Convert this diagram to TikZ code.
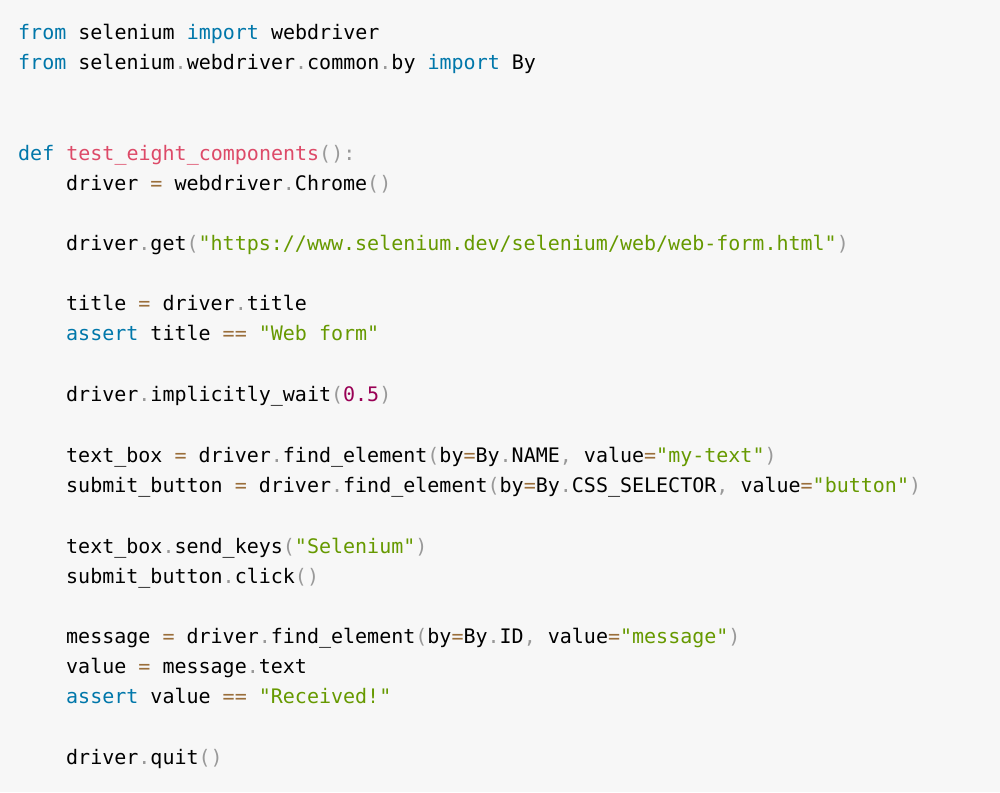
\documentclass[tikz,border=0pt]{standalone}
\usepackage{fontspec}
\setmonofont{DejaVu Sans Mono}
\definecolor{bg}{HTML}{F7F7F7}
\definecolor{kwc}{HTML}{0077AA}
\definecolor{fnc}{HTML}{DD4A68}
\definecolor{stc}{HTML}{669900}
\definecolor{nmc}{HTML}{990055}
\definecolor{opc}{HTML}{9A6E3A}
\definecolor{puc}{HTML}{999999}
\definecolor{txc}{HTML}{000000}
\newcommand{\kw}[1]{\textcolor{kwc}{#1}}
\newcommand{\fnn}[1]{\textcolor{fnc}{#1}}
\newcommand{\st}[1]{\textcolor{stc}{#1}}
\newcommand{\nm}[1]{\textcolor{nmc}{#1}}
\newcommand{\op}[1]{\textcolor{opc}{#1}}
\newcommand{\pu}[1]{\textcolor{puc}{#1}}
\begin{document}
\begin{tikzpicture}[x=1pt,y=-1pt,
  code/.style={anchor=base west,inner sep=0pt,font=\ttfamily\fontsize{20}{24}\selectfont,text=txc}]
\fill[bg] (0,0) rectangle (1000,792);
\useasboundingbox (0,0) rectangle (1000,792);
\def\a{18}\def\b{66}
\node[code] (l1) at (\a,40) {\kw{from} selenium \kw{import} webdriver};
\node[code] (l2) at (\a,70) {\kw{from} selenium\pu{.}webdriver\pu{.}common\pu{.}by \kw{import} By};
\node[code] (l3) at (\a,160) {\kw{def} \fnn{test\_eight\_components}\pu{():}};
\node[code] (l4) at (\b,190) {driver \op{=} webdriver\pu{.}Chrome\pu{()}};
\node[code] (l5) at (\b,250) {driver\pu{.}get\pu{(}\st{"https://www.selenium.dev/selenium/web/web-form.html"}\pu{)}};
\node[code] (l6) at (\b,310) {title \op{=} driver\pu{.}title};
\node[code] (l7) at (\b,340) {\kw{assert} title \op{==} \st{"Web form"}};
\node[code] (l8) at (\b,401) {driver\pu{.}implicitly\_wait\pu{(}\nm{0.5}\pu{)}};
\node[code] (l9) at (\b,462) {text\_box \op{=} driver\pu{.}find\_element\pu{(}by\op{=}By\pu{.}NAME\pu{,} value\op{=}\st{"my-text"}\pu{)}};
\node[code] (l10) at (\b,492) {submit\_button \op{=} driver\pu{.}find\_element\pu{(}by\op{=}By\pu{.}CSS\_SELECTOR\pu{,} value\op{=}\st{"button"}\pu{)}};
\node[code] (l11) at (\b,553) {text\_box\pu{.}send\_keys\pu{(}\st{"Selenium"}\pu{)}};
\node[code] (l12) at (\b,583) {submit\_button\pu{.}click\pu{()}};
\node[code] (l13) at (\b,643) {message \op{=} driver\pu{.}find\_element\pu{(}by\op{=}By\pu{.}ID\pu{,} value\op{=}\st{"message"}\pu{)}};
\node[code] (l14) at (\b,673) {value \op{=} message\pu{.}text};
\node[code] (l15) at (\b,703) {\kw{assert} value \op{==} \st{"Received!"}};
\node[code] (l16) at (\b,764) {driver\pu{.}quit\pu{()}};
\end{tikzpicture}
\end{document}
